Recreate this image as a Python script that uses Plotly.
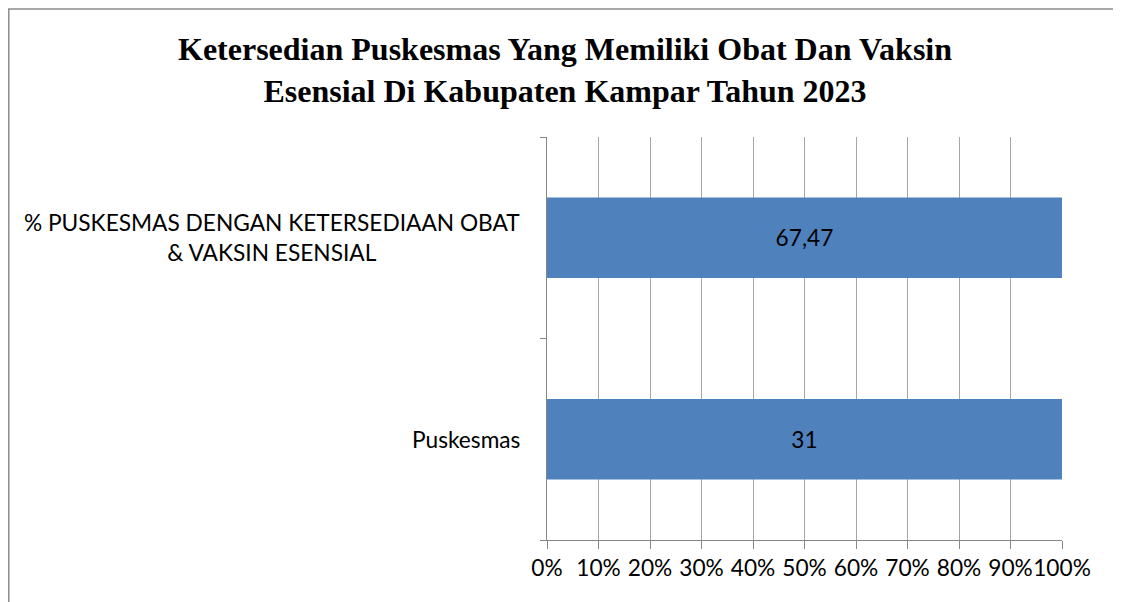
import plotly.graph_objects as go

categories = ["Puskesmas", "% PUSKESMAS DENGAN KETERSEDIAAN OBAT<br>& VAKSIN ESENSIAL"]
values = [31, 67.47]
tick_values = [0, 10, 20, 30, 40, 50, 60, 70, 80, 90, 100]
tick_labels = ["0%", "10%", "20%", "30%", "40%", "50%", "60%", "70%", "80%", "90%", "100%"]
title_text = "<b>Ketersedian Puskesmas Yang Memiliki Obat Dan Vaksin<br>Esensial Di Kabupaten Kampar Tahun 2023</b>"

OFF = 8  # page body margin
W, H = 1121 - OFF, 602 - OFF
L, R, T, B = 547 - OFF, 1062 - OFF, 137 - OFF, 540 - OFF
pw, ph = R - L, B - T

def px(x):
    return (x - OFF - L) / pw

def py(y):
    return (B - (y - OFF)) / ph

labels = [("%g" % v).replace(".", ",") for v in values]
font = "Lato, Carlito, 'Open Sans', sans-serif"
fs = 22.7

fig = go.Figure()
fig.add_trace(go.Bar(
    y=list(range(len(categories))), x=values, orientation="h",
    marker=dict(color="#4F81BD", line=dict(width=0)),
    text=labels, textposition="inside", insidetextanchor="middle",
    textfont=dict(family=font, size=fs, color="black"),
    width=0.4, hoverinfo="skip",
))

annotations = []
for i, c in enumerate(categories):
    annotations.append(dict(
        x=px(522), xref="paper", y=i, yref="y", text=c, showarrow=False,
        xanchor="right", yanchor="middle", align="center",
        font=dict(family=font, size=fs, color="black"),
    ))
annotations.append(dict(
    x=px(565), xref="paper", y=py(70), yref="paper", text=title_text,
    showarrow=False, xanchor="center", yanchor="middle", align="center",
    font=dict(family="'Liberation Serif', 'Times New Roman', serif", size=32, color="black"),
))

shapes = [
    dict(type="rect", xref="paper", yref="paper", x0=px(8.8), x1=px(1118), y0=py(9), y1=py(620),
         line=dict(color="#8c8c8c", width=1.5), fillcolor="rgba(0,0,0,0)", layer="below"),
]

fig.update_layout(
    width=W, height=H,
    margin=dict(l=L, r=W - R, t=T, b=H - B, pad=0, autoexpand=False),
    plot_bgcolor="white", paper_bgcolor="white",
    barnorm="percent", showlegend=False,
    annotations=annotations, shapes=shapes,
    xaxis=dict(range=[0, 100], tickvals=tick_values, ticktext=tick_labels,
               tickangle=0, automargin=False,
               showgrid=True, gridcolor="#a6a6a6", gridwidth=1,
               showline=True, linecolor="#868686", linewidth=1,
               ticks="outside", ticklen=8, tickcolor="#868686",
               tickfont=dict(family=font, size=fs, color="black"), zeroline=False,
               fixedrange=True),
    yaxis=dict(range=[-0.5, 1.5], tickvals=[-0.5, 0.5, 1.5], ticktext=["", "", ""],
               automargin=False,
               showgrid=False, showline=True, linecolor="#868686", linewidth=1,
               ticks="outside", ticklen=6, tickcolor="#868686", zeroline=False,
               fixedrange=True),
)

fig.write_html("out.html")
